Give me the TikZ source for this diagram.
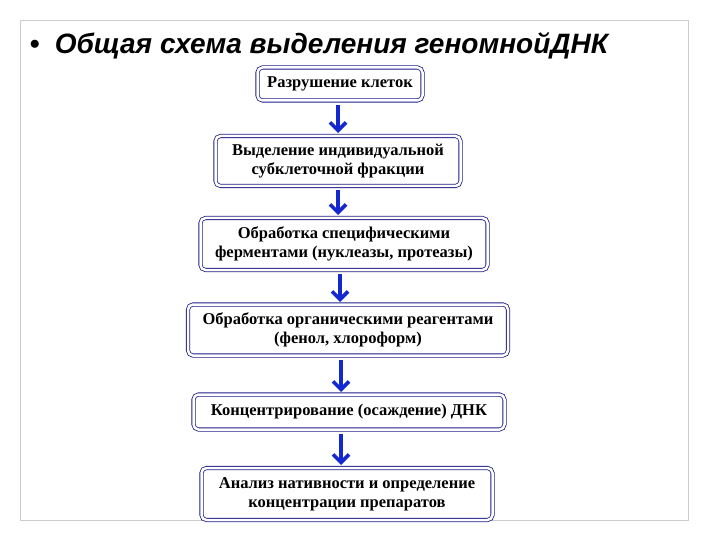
\documentclass[tikz,border=0pt]{standalone}
\usetikzlibrary{arrows.meta}
\usepackage{fontspec}
\setmainfont{Liberation Serif}
\newfontfamily\titlefont{Liberation Sans}
\definecolor{boxblue}{RGB}{30,30,140}
\definecolor{arrblue}{RGB}{20,40,210}
\begin{document}
\begin{tikzpicture}[x=1pt,y=-1pt,
  stage/.style={draw=boxblue,double=white,double distance=2.5pt,line width=0.8pt,rounded corners=5pt,
    align=center,font=\bfseries\fontsize{16.5}{19}\selectfont,inner sep=2pt,fill=white},
  flow/.style={draw=arrblue,line width=3.6pt,-{Straight Barb[length=8pt,width=16pt]}}]
\useasboundingbox (0,0) rectangle (720,540);
\draw[black!20,line width=0.8pt] (20,20) rectangle (688,520);
\node[anchor=west,font=\titlefont\bfseries\itshape\fontsize{28}{32}\selectfont] (title) at (26,46) {•\ \ Общая схема выделения геномнойДНК};
\node[stage,minimum width=165pt,minimum height=33pt] (s1) at (340,84) {Разрушение клеток};
\node[stage,minimum width=245pt,minimum height=50pt] (s2) at (338,161) {Выделение индивидуальной\\ субклеточной фракции};
\node[stage,minimum width=287pt,minimum height=52pt] (s3) at (344,244) {Обработка специфическими\\ ферментами (нуклеазы, протеазы)};
\node[stage,minimum width=320pt,minimum height=51pt] (s4) at (348,330) {Обработка органическими реагентами\\ (фенол, хлороформ)};
\node[stage,minimum width=311pt,minimum height=35pt] (s5) at (349,412) {Концентрирование (осаждение) ДНК};
\node[stage,minimum width=291pt,minimum height=52pt] (s6) at (347,494) {Анализ нативности  и определение\\ концентрации препаратов};
\coordinate (a1) at (338,105); \coordinate (b1) at (338,133);
\coordinate (a2) at (338,190); \coordinate (b2) at (338,215);
\coordinate (a3) at (340,274); \coordinate (b3) at (340,302);
\coordinate (a4) at (341,360); \coordinate (b4) at (341,392);
\coordinate (a5) at (341,434); \coordinate (b5) at (341,465);
\draw[flow] (a1) -- (b1);
\draw[flow] (a2) -- (b2);
\draw[flow] (a3) -- (b3);
\draw[flow] (a4) -- (b4);
\draw[flow] (a5) -- (b5);
\end{tikzpicture}
\end{document}
